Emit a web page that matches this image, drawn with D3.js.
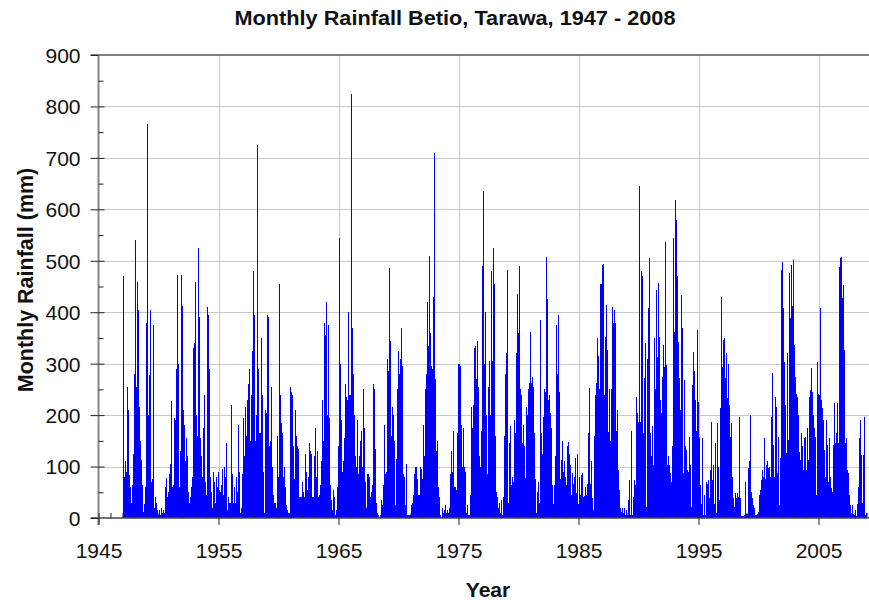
<!DOCTYPE html>
<html><head><meta charset="utf-8">
<script src="https://cdn.jsdelivr.net/npm/d3@7"></script>
<style>
body{margin:0;background:#fff}
svg{display:block;font-family:"Liberation Sans",Arial,Helvetica,sans-serif}
</style></head><body>
<svg id="chart" width="869" height="600"></svg>
<script>
// Monthly rainfall (mm), Betio, Tarawa, Jan 1947 - Dec 2008
const startYear = 1947;
const rain1940s = [
  470, 80, 110, 90, 255, 210, 84, 60, 30, 65, 125, 280,
  540, 255, 458, 405, 215, 150, 113, 65, 12, 28, 60, 380,
  765, 200, 278, 405, 70, 75, 375, 20, 40, 30, 15, 5
];
const rain1950s = [
  15, 5, 20, 10, 15, 10, 60, 78, 40, 50, 85, 105,
  228, 60, 65, 195, 190, 290, 472, 300, 60, 130, 472, 413,
  210, 180, 110, 155, 120, 50, 30, 40, 60, 80, 330, 340,
  458, 200, 160, 525, 390, 155, 120, 80, 175, 240, 70, 45,
  410, 395, 290, 80, 50, 20, 90, 70, 30, 80, 60, 90,
  55, 50, 65, 95, 45, 100, 80, 145, 15, 40, 30, 30,
  220, 85, 30, 60, 30, 80, 50, 180, 90, 10, 20, 85,
  195, 120, 215, 160, 230, 260, 290, 150, 240, 325, 480, 395,
  150, 200, 725, 290, 165, 165, 350, 240, 90, 10, 210, 205,
  395, 390, 140, 150, 255, 100, 45, 30, 30, 20, 160, 80
];
const rain1960s = [
  455, 240, 185, 165, 80, 100, 60, 25, 15, 10, 10, 255,
  245, 240, 140, 75, 210, 160, 140, 135, 40, 40, 40, 70,
  50, 40, 125, 90, 55, 80, 145, 130, 125, 40, 40, 120,
  175, 80, 130, 40, 45, 65, 110, 230, 150, 380, 355, 420,
  200, 375, 195, 65, 35, 15, 55, 40, 5, 15, 60, 140,
  545, 300, 190, 90, 110, 155, 260, 235, 230, 400, 240, 240,
  825, 370, 280, 200, 120, 100, 190, 85, 120, 150, 170, 100,
  250, 175, 70, 20, 85, 85, 80, 40, 50, 65, 260, 250,
  135, 30, 10, 5, 0, 5, 35, 25, 65, 180, 85, 90,
  310, 285, 485, 345, 160, 215, 200, 150, 25, 115, 250, 325
];
const rain1970s = [
  280, 310, 370, 295, 85, 80, 25, 105, 5, 5, 5, 5,
  25, 30, 45, 85, 100, 100, 75, 45, 45, 100, 95, 75,
  180, 120, 250, 280, 420, 335, 510, 360, 295, 290, 430, 710,
  270, 130, 150, 60, 40, 5, 0, 20, 10, 15, 25, 10,
  15, 10, 20, 85, 130, 90, 170, 60, 60, 55, 165, 300,
  300, 295, 180, 100, 175, 100, 90, 10, 25, 5, 5, 45,
  215, 175, 220, 330, 335, 270, 345, 255, 120, 100, 170, 490,
  635, 300, 400, 200, 85, 255, 305, 200, 480, 305, 525, 455,
  160, 50, 40, 20, 30, 10, 35, 5, 40, 160, 280, 320,
  482, 30, 145, 178, 65, 80, 70, 190, 165, 320, 435, 360
];
const rain1980s = [
  490, 250, 240, 145, 180, 140, 78, 215, 200, 250, 262, 362,
  262, 275, 255, 165, 75, 10, 50, 70, 30, 385, 165, 125,
  197, 250, 245, 508, 425, 230, 240, 205, 175, 64, 28, 65,
  120, 375, 280, 395, 245, 75, 113, 150, 90, 110, 80, 65,
  140, 148, 125, 103, 45, 87, 67, 80, 116, 48, 125, 28,
  80, 45, 84, 87, 40, 42, 60, 45, 67, 165, 252, 67,
  110, 38, 15, 160, 240, 262, 350, 315, 250, 455, 455, 492,
  493, 240, 352, 414, 326, 168, 250, 150, 250, 410, 380, 405,
  380, 170, 210, 93, 55, 19, 12, 19, 9, 19, 5, 15,
  5, 35, 74, 5, 170, 5, 40, 74, 65, 235, 205, 187
];
const rain1990s = [
  645, 187, 480, 470, 165, 272, 340, 22, 310, 408, 505, 165,
  120, 178, 103, 350, 250, 443, 313, 456, 352, 230, 204, 275,
  336, 294, 537, 297, 103, 120, 103, 87, 70, 139, 544, 362,
  618, 580, 470, 343, 272, 210, 434, 369, 87, 268, 139, 132,
  93, 90, 158, 103, 22, 258, 323, 285, 230, 170, 365, 226,
  158, 64, 28, 155, 5, 45, 5, 70, 67, 74, 38, 93,
  187, 74, 103, 28, 145, 10, 184, 100, 35, 213, 430, 294,
  346, 350, 272, 320, 233, 300, 220, 158, 184, 80, 38, 22,
  48, 38, 48, 40, 197, 38, 3, 3, 3, 5, 70, 8,
  8, 97, 110, 200, 51, 38, 25, 20, 5, 5, 8, 12
];
const rain2000s = [
  45, 55, 74, 93, 80, 155, 75, 103, 110, 97, 100, 80,
  197, 281, 142, 80, 236, 216, 87, 158, 25, 116, 482, 498,
  408, 304, 220, 126, 320, 152, 476, 388, 492, 412, 502, 336,
  275, 242, 236, 200, 129, 113, 165, 139, 93, 155, 158, 93,
  175, 113, 236, 249, 291, 245, 200, 175, 158, 45, 304, 242,
  240, 408, 229, 213, 190, 132, 80, 190, 142, 70, 155, 80,
  58, 51, 142, 223, 145, 165, 223, 145, 488, 505, 508, 427,
  453, 326, 145, 155, 93, 87, 45, 25, 10, 25, 8, 5,
  15, 3, 28, 61, 155, 190, 122, 30, 122, 197, 5, 10
];
const xMajorTicks = [1945, 1955, 1965, 1975, 1985, 1995, 2005];
const xMinorTicks = d3.range(1945, 2010);
const yMajorTicks = [0, 100, 200, 300, 400, 500, 600, 700, 800, 900];
const yMinorTicks = [50, 150, 250, 350, 450, 550, 650, 750, 850];
const titleText = "Monthly Rainfall Betio, Tarawa, 1947 - 2008";
const yTitleText = "Monthly Rainfall (mm)";
const xTitleText = "Year";

(function () {
const svg = d3.select("#chart");
const W = 869;
const plotLeft = 98.5, plotTop = 55, plotBottom = 518;
const x = d3.scaleLinear().domain([1945, 2010]).range([plotLeft, plotLeft + 780]);
const y = d3.scaleLinear().domain([0, 900]).range([plotBottom, plotTop]);

svg.append("rect").attr("width", W).attr("height", 600).attr("fill", "#fff");

// grid
const grid = svg.append("g").attr("stroke", "#c8c8c8").attr("stroke-width", 1).attr("shape-rendering", "crispEdges");
grid.selectAll(".hg").data(yMajorTicks.filter(v => v > 0 && v < 900)).join("line")
  .attr("x1", plotLeft).attr("x2", W).attr("y1", d => Math.round(y(d)) + 0.5).attr("y2", d => Math.round(y(d)) + 0.5);
grid.selectAll(".vg").data(xMajorTicks.slice(1)).join("line")
  .attr("y1", plotTop).attr("y2", plotBottom).attr("x1", d => Math.round(x(d)) + 0.5).attr("x2", d => Math.round(x(d)) + 0.5);

// bars
const rain = [].concat(rain1940s, rain1950s, rain1960s, rain1970s, rain1980s, rain1990s, rain2000s);
const months = rain.map((v, i) => ({ t: startYear + i / 12, v }));
svg.append("g").attr("shape-rendering", "crispEdges")
  .selectAll("rect").data(months).join("rect")
  .attr("x", d => x(d.t))
  .attr("width", d => x(d.t + 1 / 12) - x(d.t))
  .attr("y", d => y(d.v))
  .attr("height", d => y(0) - y(d.v))
  .attr("fill", "#0000ff");

// frame lines
svg.append("line").attr("x1", 91).attr("x2", W).attr("y1", plotTop).attr("y2", plotTop)
  .attr("stroke", "#555").attr("stroke-width", 1.5);
svg.append("line").attr("x1", 91).attr("x2", W).attr("y1", plotBottom).attr("y2", plotBottom)
  .attr("stroke", "#444").attr("stroke-width", 1.5);
svg.append("line").attr("x1", plotLeft).attr("x2", plotLeft).attr("y1", plotTop).attr("y2", 525)
  .attr("stroke", "#888").attr("stroke-width", 2);

function styleAxis(g) {
  g.select(".domain").remove();
  g.selectAll(".tick line").attr("stroke", "#222");
}

// x axis
const xMajor = svg.append("g").attr("transform", `translate(0,${plotBottom})`)
  .call(d3.axisBottom(x).tickValues(xMajorTicks).tickSize(7).tickFormat(d3.format("d")))
  .call(styleAxis);
xMajor.selectAll("text").attr("y", 40).attr("dy", null)
  .attr("font-size", 21).attr("fill", "#111").attr("font-family", '"Liberation Sans",Arial,sans-serif');
svg.append("g").attr("transform", `translate(0,${plotBottom})`)
  .call(d3.axisTop(x).tickValues(xMinorTicks).tickSize(5).tickFormat(""))
  .call(styleAxis);

// y axis
const yMajor = svg.append("g").attr("transform", `translate(${plotLeft},0)`)
  .call(d3.axisLeft(y).tickValues(yMajorTicks).tickSize(8).tickPadding(10))
  .call(styleAxis);
yMajor.selectAll("text").attr("dy", "0.35em")
  .attr("font-size", 21).attr("fill", "#111").attr("font-family", '"Liberation Sans",Arial,sans-serif');
svg.append("g").attr("transform", `translate(${plotLeft},0)`)
  .call(d3.axisRight(y).tickValues(yMajorTicks.filter(v => v > 0 && v < 900)).tickSize(6).tickFormat(""))
  .call(styleAxis);
svg.append("g").attr("transform", `translate(${plotLeft},0)`)
  .call(d3.axisRight(y).tickValues(yMinorTicks).tickSize(5).tickFormat(""))
  .call(styleAxis);

// titles
svg.append("text").attr("x", 455).attr("y", 25).attr("text-anchor", "middle")
  .attr("font-size", 20).attr("font-weight", "bold").attr("fill", "#111")
  .attr("textLength", 441).attr("lengthAdjust", "spacingAndGlyphs")
  .text(titleText);
svg.append("text").attr("transform", "translate(32.5,280) rotate(-90)").attr("text-anchor", "middle")
  .attr("font-size", 21.5).attr("font-weight", "bold").attr("fill", "#111")
  .text(yTitleText);
svg.append("text").attr("x", 488).attr("y", 597).attr("text-anchor", "middle")
  .attr("font-size", 21).attr("font-weight", "bold").attr("fill", "#111")
  .text(xTitleText);
})();
</script>
</body></html>
